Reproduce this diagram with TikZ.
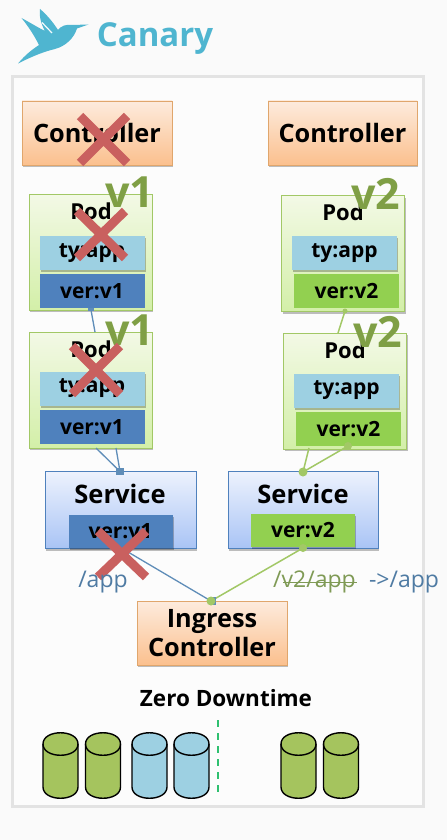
\documentclass[tikz,border=0pt]{standalone}
\usepackage{fontspec}
\usetikzlibrary{shadows,calc}
\setmainfont{Open Sans}
\newcommand{\semi}{\bfseries}
\definecolor{bluebox}{HTML}{4F81BD}
\definecolor{greenbox}{HTML}{92D050}
\definecolor{tybox}{HTML}{9DD0E2}
\definecolor{xred}{HTML}{C9605F}
\definecolor{vgreen}{HTML}{7F9F45}
\definecolor{canary}{HTML}{4FB5D0}
\definecolor{linkblue}{HTML}{5F8DB8}
\definecolor{linkgreen}{HTML}{A2C866}
\definecolor{pathblue}{HTML}{4F7BA3}
\definecolor{patholive}{HTML}{7F9A55}
\definecolor{cylgreen}{HTML}{A5C45E}
\definecolor{peachtop}{HTML}{FDEBDD}
\definecolor{peachbot}{HTML}{FBC08E}
\definecolor{peachline}{HTML}{E0A66C}
\definecolor{podtop}{HTML}{F3F9E6}
\definecolor{podbot}{HTML}{D3EFA8}
\definecolor{svctop}{HTML}{EDF2FD}
\definecolor{svcbot}{HTML}{A9C4F5}
\definecolor{dashgreen}{HTML}{2FC070}
\tikzset{
  x=1pt,y=-1pt,
  softshadow/.style={drop shadow={shadow xshift=1pt,shadow yshift=-2pt,opacity=.25,fill=black}},
  boxbase/.style={rectangle,inner sep=0pt,outer sep=0pt,anchor=north west,align=center},
  ctrl/.style={boxbase,softshadow,draw=peachline,line width=.8pt,top color=peachtop,bottom color=peachbot,font=\semi\fontsize{25.3}{29}\selectfont},
  podbox/.style={boxbase,softshadow,draw=linkgreen,line width=.8pt,top color=podtop,bottom color=podbot,minimum width=123pt,minimum height=116pt},
  svc/.style={boxbase,softshadow,draw=bluebox,line width=1pt,top color=svctop,bottom color=svcbot,minimum width=151pt,minimum height=77pt},
  tag/.style={boxbase,minimum width=105pt,minimum height=34pt,font=\semi\fontsize{21}{24}\selectfont},
  tytag/.style={tag,softshadow,fill=tybox},
  v1tag/.style={tag,fill=bluebox},
  v2tag/.style={tag,fill=greenbox},
  podtitle/.style={font=\semi\fontsize{22}{24}\selectfont,inner sep=0pt},
  svctitle/.style={font=\semi\fontsize{25.5}{30}\selectfont,inner sep=0pt},
  vlabel/.style={font=\semi\fontsize{43}{46}\selectfont,text=vgreen,inner sep=0pt},
  pathlabel/.style={font=\fontsize{23}{25}\selectfont,inner sep=0pt},
  crossmark/.style={draw=xred,line width=9pt},
  link1/.style={draw=linkblue,line width=1.3pt},
  link2/.style={draw=linkgreen,line width=1.5pt},
  cylline/.style={draw=black,line width=1.4pt},
}
\newcommand{\drum}[2]{%
  \path[cylline,fill=#2] (#1-17.5,744) -- (#1-17.5,787)
    .. controls (#1-17.5,802) and (#1+17.5,802) .. (#1+17.5,787) -- (#1+17.5,744)
    .. controls (#1+17.5,729) and (#1-17.5,729) .. (#1-17.5,744) -- cycle;
  \path[cylline] (#1-17.5,744) .. controls (#1-17.5,759) and (#1+17.5,759) .. (#1+17.5,744);
}
\begin{document}
\begin{tikzpicture}
\useasboundingbox (0,0) rectangle (447,840);
\fill[white!98!black] (0,0) rectangle (447,840);
\draw[draw=black!11,line width=3pt,fill=white!99!black] (12.5,76.5) rectangle (423.5,806.5);

% logo
\fill[canary] (18,63.5) .. controls (26,54) and (33,49) .. (39,45)
  .. controls (34,35) and (28,26) .. (21.5,18)
  .. controls (29,22) and (37,27) .. (45,31)
  .. controls (41,24) and (39,16) .. (40,9)
  .. controls (46,14) and (53,22) .. (58,30)
  .. controls (61,26) and (66,24) .. (72,25)
  -- (88.5,24.5) -- (77,28.5)
  .. controls (74,38) and (66,46) .. (55,49)
  .. controls (42,52) and (29,58) .. (18,63.5) -- cycle;
\draw[white!95!canary,line width=1.2pt] (42,22.5) -- (52,33);
\node[font=\semi\fontsize{33}{36}\selectfont,text=canary,inner sep=0pt] (title) at (155,39) {Canary};

% boxes
\node[ctrl,minimum width=150pt,minimum height=64pt] (ctrlL) at (22,101) {Controller};
\node[ctrl,minimum width=149pt,minimum height=64pt] (ctrlR) at (268,101) {Controller};

\node[podbox] (podA) at (29,194) {};
\node[podtitle] (podAt) at (91,211) {Pod};
\node[tytag] (podAty) at (39.5,236) {ty:app};
\node[v1tag] (podAver) at (39.5,274) {ver:v1};

\node[podbox] (podB) at (29,332) {};
\node[podtitle] (podBt) at (91,349) {Pod};
\node[tytag] (podBty) at (39.5,371.5) {ty:app};
\node[v1tag] (podBver) at (39.5,410) {ver:v1};

\node[podbox] (podC) at (281.5,195.5) {};
\node[podtitle] (podCt) at (343,212) {Pod};
\node[tytag] (podCty) at (292,236) {ty:app};
\node[v2tag] (podCver) at (294,274) {ver:v2};

\node[podbox] (podD) at (283.5,333) {};
\node[podtitle] (podDt) at (345,350) {Pod};
\node[tytag] (podDty) at (294,373.5) {ty:app};
\node[v2tag] (podDver) at (296,412) {ver:v2};

\node[svc] (svcL) at (45,471.5) {};
\node[svctitle] (svcLt) at (120,494) {Service};
\node[v1tag,softshadow,minimum width=104pt,minimum height=33pt] (svcLver) at (68.5,515) {ver:v1};
\node[svc,minimum width=150pt] (svcR) at (228,471.5) {};
\node[svctitle] (svcRt) at (303,494) {Service};
\node[v2tag,softshadow,minimum width=104pt,minimum height=33pt] (svcRver) at (251,514) {ver:v2};

\node[ctrl,minimum width=150pt,minimum height=64pt] (ingress) at (137,601) {Ingress\\Controller};

% ports
\coordinate (pAb) at (91,310);
\coordinate (pBt) at (95,332);
\coordinate (pBb1) at (96,448);
\coordinate (pBb2) at (116,448);
\coordinate (sLt) at (120,471.5);
\coordinate (sLb) at (128,552);
\coordinate (ig) at (211,601);
\coordinate (pCb) at (345,311);
\coordinate (pDt) at (338,333);
\coordinate (pDb1) at (309,448);
\coordinate (pDb2) at (348,446);
\coordinate (sRt) at (303,472);
\coordinate (sRb) at (303,548);

% connectors
\draw[link1] (pAb) -- (pBt);
\draw[link1] (pBb1) -- (sLt);
\draw[link1] (pBb2) -- (sLt);
\draw[link1] (sLb) -- (ig);
\draw[link2] (pCb) -- (pDt);
\draw[link2] (pDb1) -- (sRt);
\draw[link2] (pDb2) -- (sRt);
\draw[link2] (sRb) -- (ig);
\fill[linkblue] ($(pAb)+(-3,-2)$) rectangle ($(pAb)+(3,1)$);
\fill[linkblue] ($(sLt)+(-4,-4)$) rectangle ($(sLt)+(4,3)$);
\fill[linkgreen] (pCb) circle (2.5);
\fill[linkgreen] (pDb2) circle (4);
\fill[linkgreen] (sRt) circle (4.5);
\fill[linkgreen] (sRb) circle (4);
\fill[linkblue] ($(ig)+(1,-4)$) rectangle ($(ig)+(5,4)$);
\fill[linkgreen] (ig) circle (4.5);

% version labels
\node[vlabel] (vA) at (130,192) {v1};
\node[vlabel] (vB) at (130,330) {v1};
\node[vlabel] (vC) at (376,194) {v2};
\node[vlabel] (vD) at (378,332) {v2};

% crosses
\draw[crossmark] (80,116) -- (127,163) (127,116) -- (80,163);
\draw[crossmark] (77,211) -- (125,258) (125,211) -- (77,258);
\draw[crossmark] (72,346) -- (120,394) (120,346) -- (72,394);
\draw[crossmark] (98,531) -- (146,577) (146,531) -- (98,577);

% paths
\node[pathlabel,text=pathblue] (pathL) at (103,582) {/app};
\node[pathlabel,text=patholive] (pathR) at (314.5,582) {/v2/app};
\draw[patholive,line width=1pt] (pathR.west) ++(10,0) -- ($(pathR.east)+(1,0)$);
\node[pathlabel,text=pathblue] (pathN) at (404,582) {->/app};

% bottom
\node[font=\semi\fontsize{22.5}{24}\selectfont,inner sep=0pt] (zero) at (226,698) {Zero Downtime};
\coordinate (dashT) at (217.5,720);
\coordinate (dashB) at (217.5,795);
\draw[draw=dashgreen,line width=2pt,dash pattern=on 7pt off 6pt] (dashT) -- (dashB);
\drum{60.5}{cylgreen}
\drum{103}{cylgreen}
\drum{149.5}{tybox}
\drum{191.5}{tybox}
\drum{298.5}{cylgreen}
\drum{341}{cylgreen}
\end{tikzpicture}
\end{document}
